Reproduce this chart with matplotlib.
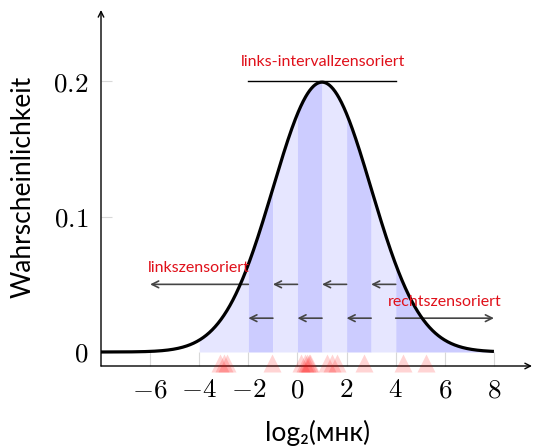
import numpy as np
import matplotlib
matplotlib.use("Agg")
import matplotlib.pyplot as plt

plt.rcParams['mathtext.fontset'] = 'cm'
SANS = ['Lato', 'Open Sans', 'DejaVu Sans']

# distribution parameters
mu = 1.0
sigma = 2.0
curve_min, curve_max = -8.0, 8.0

# shaded interval edges and shade index (0 = light, 1 = dark)
band_edges = [-4, -2, -1, 0, 1, 2, 3, 4, 8]
band_shade = [0, 1, 0, 1, 0, 1, 0, 1]

# observations (red triangles)
observations = [-3.15, -3.0, -2.85, -1.05, 0.15, 0.3, 0.38, 0.45, 0.52,
                1.2, 1.4, 1.6, 2.7, 4.3, 5.25]

# arrows (tail, head, level)
arrow_tails = [-2, 0, 2, 4, -1, 1, 3, 4]
arrow_heads = [-6, -1, 1, 3, -2, 0, 2, 8]
arrow_levels = [0.05, 0.05, 0.05, 0.05, 0.025, 0.025, 0.025, 0.025]

# interval-censored bar at the top
top_bar = (-2, 4, 0.2)

xticks = [-6, -4, -2, 0, 2, 4, 6, 8]
yticks = [0, 0.1, 0.2]
ytick_labels = ['0', '0.1', '0.2']

labels = [("links-intervallzensoriert", 1.05, 0.214),
          ("linkszensoriert", -4.0, 0.062),
          ("rechtszensoriert", 6.0, 0.037)]

light = '#e6e6ff'
dark = '#ccccff'

fig = plt.figure(figsize=(5.34, 4.48), dpi=100)
ax = fig.add_axes([101/534, 1-366/448, (532-101)/534, (366-10)/448])
ax.set_xlim(-8, 9.55)
ax.set_ylim(-0.01035, 0.2528)

x = np.linspace(curve_min, curve_max, 800)
y = np.exp(-0.5*((x-mu)/sigma)**2)/(sigma*np.sqrt(2*np.pi))

for i in range(len(band_edges)-1):
    a, b = band_edges[i], band_edges[i+1]
    xs = np.linspace(a, b, 200)
    ys = np.exp(-0.5*((xs-mu)/sigma)**2)/(sigma*np.sqrt(2*np.pi))
    ax.fill_between(xs, 0, ys, color=(dark if band_shade[i] else light),
                    lw=0, zorder=1)

ax.plot(x, y, color='black', lw=2.3, zorder=4, solid_capstyle='butt')

for t, h, lv in zip(arrow_tails, arrow_heads, arrow_levels):
    ax.annotate('', xy=(h, lv), xytext=(t, lv),
                arrowprops=dict(arrowstyle='->', color='#454545', lw=1.2,
                                shrinkA=0, shrinkB=0, mutation_scale=12),
                zorder=3)

ax.plot([top_bar[0], top_bar[1]], [top_bar[2], top_bar[2]], color='black',
        lw=1.0, zorder=3)

for txt, tx, ty in labels:
    ax.text(tx, ty, txt, color='#e0101a', fontsize=11.5, ha='center',
            va='center', family=SANS, zorder=5)

ax.plot(observations, [-0.0085]*len(observations), linestyle='none',
        marker='^', ms=12.5, color='red', alpha=0.17, mec='none',
        clip_on=False, zorder=6)

for s in ax.spines.values():
    s.set_visible(False)
ax.annotate('', xy=(1, 0), xytext=(0, 0), xycoords='axes fraction',
            arrowprops=dict(arrowstyle='->', color='black', lw=1.0,
                            shrinkA=0, shrinkB=0, mutation_scale=10))
ax.annotate('', xy=(0, 1), xytext=(0, 0), xycoords='axes fraction',
            arrowprops=dict(arrowstyle='->', color='black', lw=1.0,
                            shrinkA=0, shrinkB=0, mutation_scale=10))

ax.set_xticks(xticks)
ax.set_xticklabels([f'${v}$' for v in xticks], fontsize=19.5)
ax.set_yticks(yticks)
ax.set_yticklabels([f'${v}$' for v in ytick_labels], fontsize=19.5)
ax.tick_params(axis='both', direction='in', color='#d8d8d8', width=0.8)
ax.tick_params(axis='x', length=10, pad=8)
ax.tick_params(axis='y', length=8, pad=9)

fig.text(23/534, 1-187/448, 'Wahrscheinlichkeit', rotation=90, ha='center',
         va='center', fontsize=19, family=SANS)
fig.text(318/534, 1-433/448, 'log₂(мнк)', ha='center', va='center',
         fontsize=19, family=SANS)

fig.savefig('out.png', dpi=100)
